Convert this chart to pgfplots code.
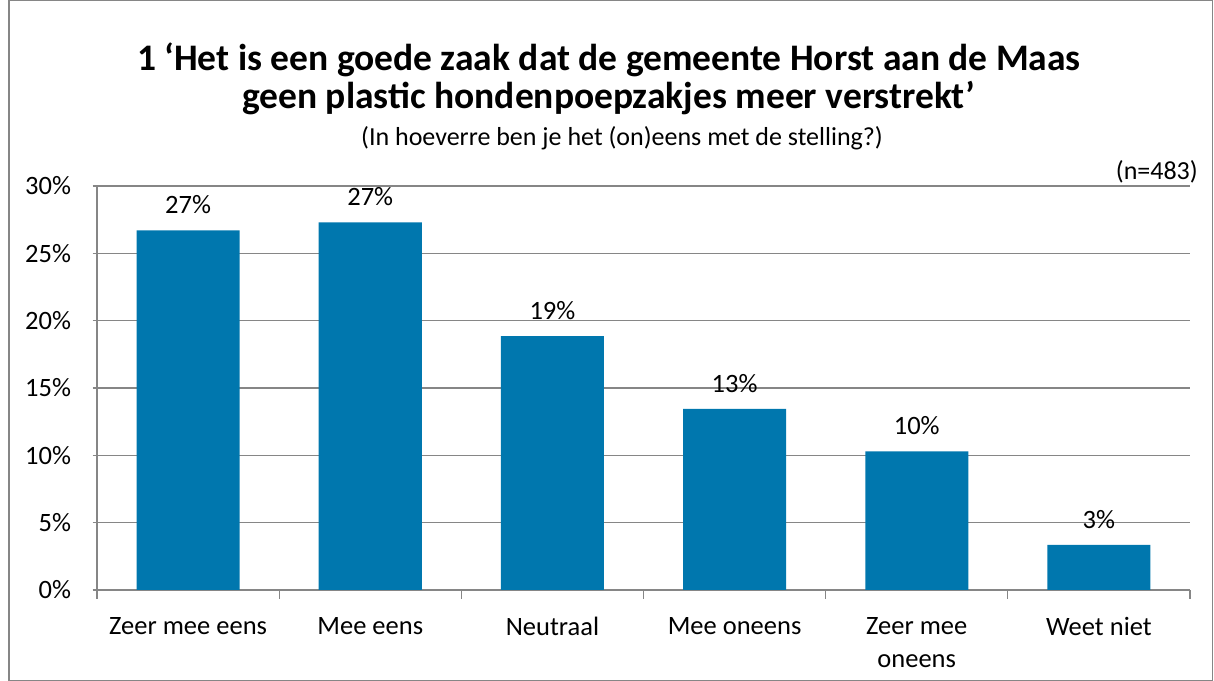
\documentclass[border=0pt]{standalone}
\usepackage{fontspec}
\setmainfont{Carlito}
\usepackage{pgfplots}
\pgfplotsset{compat=1.18}
\definecolor{barblue}{RGB}{0,119,174}
\definecolor{gridgray}{RGB}{134,134,134}
\definecolor{framegray}{RGB}{134,134,134}
\begin{document}
\begin{tikzpicture}[x=1bp,y=1bp]
\useasboundingbox (0,0) rectangle (1214,681);
\draw[framegray, line width=1.2bp] (9,0.6) rectangle (1212.5,680.4);
\node[font=\fontsize{37.5bp}{38bp}\selectfont\bfseries, anchor=center] at (609,621) {1 ‘Het is een goede zaak dat de gemeente Horst aan de Maas};
\node[font=\fontsize{37.5bp}{38bp}\selectfont\bfseries, anchor=center] at (609,583) {geen plastic hondenpoepzakjes meer verstrekt’};
\node[font=\fontsize{26bp}{30bp}\selectfont, anchor=center] at (622,543) {(In hoeverre ben je het (on)eens met de stelling?)};
\node[font=\fontsize{26bp}{30bp}\selectfont, anchor=east, inner sep=0pt] at (1198,509) {(n=483)};
\begin{axis}[
  at={(97bp,91bp)}, anchor=south west,
  scale only axis, width=1093bp, height=404bp,
  xmin=-0.5, xmax=5.5, ymin=0, ymax=30,
  ytick={0,5,...,30},
  yticklabel={\pgfmathprintnumber{\tick}\%},
  /pgf/number format/assume math mode=true,
  xtick={-0.5,0.5,1.5,2.5,3.5,4.5,5.5},
  xticklabels={},
  extra x ticks={0,1,2,3,4,5},
  extra x tick labels={Zeer mee eens, Mee eens, Neutraal, Mee oneens, {Zeer mee\\oneens}, Weet niet},
  extra x tick style={major tick length=0pt, grid=none},
  xticklabel style={align=center, font=\fontsize{26.5bp}{33bp}\selectfont, yshift=-24bp},
  yticklabel style={font=\fontsize{26.5bp}{30bp}\selectfont, xshift=-18bp},
  tick align=outside,
  major tick length=9bp,
  tick style={draw=gridgray, line width=1.2bp},
  axis x line=bottom, axis y line=left,
  axis line style={-, draw=gridgray, line width=1.2bp},
  ymajorgrids, grid style={draw=gridgray, line width=1.2bp},
  ybar, bar width=103bp,
  nodes near coords={\pgfmathprintnumber[fixed,precision=0]{\pgfplotspointmeta}\%},
  nodes near coords style={font=\fontsize{26.5bp}{30bp}\selectfont, anchor=south, yshift=13bp},
  clip=false,
]
\addplot[fill=barblue, draw=none] coordinates {(0,26.7) (1,27.3) (2,18.85) (3,13.45) (4,10.3) (5,3.35)};
\end{axis}
\end{tikzpicture}
\end{document}
